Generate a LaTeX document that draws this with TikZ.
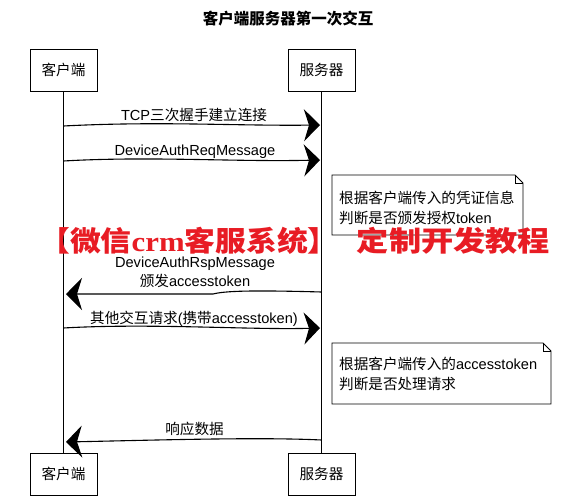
\documentclass[tikz,border=0pt]{standalone}
\usepackage{fontspec}
\setmainfont{Noto Sans CJK SC}
\newfontfamily\lat{Liberation Sans}
\newfontfamily\wmserif{Liberation Serif}
\usetikzlibrary{arrows.meta}
\definecolor{wmred}{RGB}{232,28,36}
\begin{document}
\begin{tikzpicture}[x=1pt,y=-1pt,
  actor/.style={draw,line width=0.8pt,minimum width=67pt,minimum height=42pt,inner sep=0pt,font=\fontsize{14.6}{16}\selectfont},
  life/.style={line width=0.7pt},
  msg/.style={line width=1.1pt,-{Stealth[length=16pt,width=32pt,inset=5pt]}},
  lbl/.style={inner sep=0pt,font=\fontsize{14.6}{19}\selectfont},
  notetext/.style={inner sep=0pt,align=left,anchor=west,font=\fontsize{14.6}{20}\selectfont},
  noteshape/.style={draw,line width=0.8pt,fill=white},
  wm/.style={inner sep=0pt,text=wmred,font=\fontsize{28}{30}\selectfont\bfseries}]
\useasboundingbox[fill=white] (0,0) rectangle (564,500);
\node[font=\fontsize{15.5}{17}\selectfont\bfseries] (title) at (288,19) {客户端服务器第一次交互};
% actors
\node[actor] (c1) at (63.5,70) {客户端};
\node[actor] (s1) at (321.5,70) {服务器};
\node[actor] (c2) at (63.5,474) {客户端};
\node[actor] (s2) at (321.5,474) {服务器};
\draw[life] (c1.south) -- (c2.north);
\draw[life] (s1.south) -- (s2.north);
% message end points
\coordinate (m1a) at (63.5,126);  \coordinate (m1b) at (320,125);
\coordinate (m2a) at (63.5,161);  \coordinate (m2b) at (320,160);
\coordinate (m3a) at (321.5,292); \coordinate (m3b) at (66,294);
\coordinate (m4a) at (63.5,328);  \coordinate (m4b) at (320,328);
\coordinate (m5a) at (321.5,440); \coordinate (m5b) at (66,442);
% messages
\draw[msg] (m1a) .. controls (160,121) and (235,126) .. (m1b);
\node[lbl] (l1) at (194,115) {{\lat TCP}三次握手建立连接};
\draw[msg] (m2a) .. controls (150,156) and (235,162) .. (m2b);
\node[lbl] (l2) at (195,152) {\lat DeviceAuthReqMessage};
% note 1
\draw[noteshape] (332,175) -- (515,175) -- (523,183) -- (523,235) -- (332,235) -- cycle;
\draw[line width=0.6pt] (515,175) -- (515,183) -- (523,183);
\node[notetext] (n1) at (339,207.5) {根据客户端传入的凭证信息\\判断是否颁发授权{\lat token}};
% return
\draw[msg] (m3a) .. controls (250,290) and (225,291) .. (213,294) -- (m3b);
\node[lbl,align=center] (l3) at (195,272.5) {{\lat DeviceAuthRspMessage}\\颁发{\lat accesstoken}};
\draw[msg] (m4a) .. controls (150,323) and (250,330) .. (m4b);
\node[lbl] (l4) at (194,319) {其他交互请求{\lat (}携带{\lat accesstoken)}};
% note 2
\draw[noteshape] (332,343) -- (543,343) -- (551,351) -- (551,404) -- (332,404) -- cycle;
\draw[line width=0.6pt] (543,343) -- (543,351) -- (551,351);
\node[notetext] (n2) at (339,374) {根据客户端传入的{\lat accesstoken}\\判断是否处理请求};
\draw[msg] (m5a) .. controls (260,437) and (160,440) .. (m5b);
\node[lbl] (l5) at (194.5,429) {响应数据};
% watermark
\node[wm,xscale=1.1,transform shape] (wm1) at (189,241) {【微信{\wmserif\bfseries crm}客服系统】};
\node[wm,xscale=1.15,transform shape] (wm2) at (453.5,241) {定制开发教程};
\end{tikzpicture}
\end{document}
